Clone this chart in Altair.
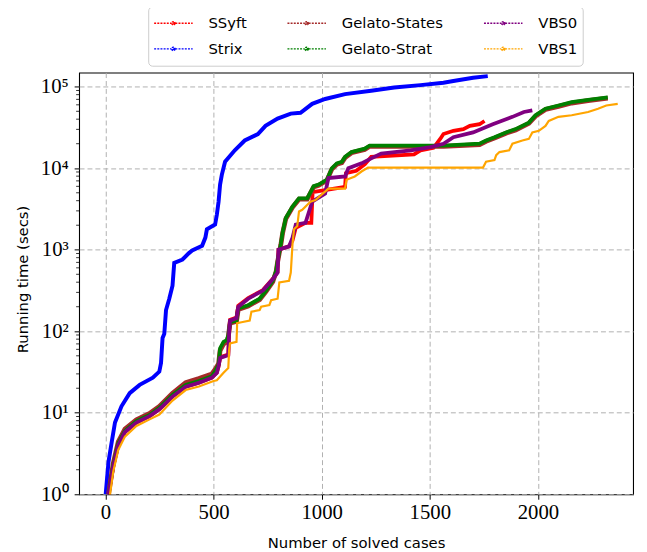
import altair as alt
import pandas as pd

# ---------------- data ----------------
series_names = ["SSyft", "Strix", "Gelato-States", "Gelato-Strat", "VBS0", "VBS1"]
series_colors = ["#ff0000", "#0000ff", "#a52a2a", "#008000", "#800080", "#ffa500"]

ssyft_x = [14, 36, 59, 90, 143, 204, 249, 310, 371, 432, 492, 515, 523, 530, 568, 572, 576, 606,
           614, 660, 728, 774, 796, 800, 849, 865, 880, 925, 952, 958, 1108, 1112, 1160, 1200, 1229,
           1427, 1457, 1517, 1548, 1563, 1609, 1655, 1685, 1730, 1753]
ssyft_y = [1.0, 2.2, 4.0, 5.8, 7.6, 9.1, 11, 15.8, 20.9, 23.4, 26.9, 30.9, 37, 48, 52, 100, 138, 148,
           205, 255, 320, 440, 530, 1000, 1100, 1300, 1860, 2140, 2140, 5100, 5900, 8700, 9300, 11200, 13800,
           14800, 16600, 17800, 22900, 26300, 28800, 30200, 33100, 34700, 38000]

strix_x = [1, 14, 29, 44, 74, 112, 158, 219, 249, 257, 264, 272, 280, 295, 310, 318, 356, 386, 401,
           447, 462, 469, 507, 515, 523, 530, 538, 553, 598, 644, 705, 740, 796, 857, 902, 956, 1016,
           1108, 1229, 1335, 1457, 1563, 1609, 1700, 1768]
strix_y = [1.0, 2.5, 4.4, 7.6, 12, 17.4, 22, 27, 32, 41, 83, 93, 182, 251, 363, 690, 760, 910, 980,
           1120, 1410, 1780, 2040, 2690, 3890, 6300, 8300, 12000, 16600, 21900, 26300, 33100, 40700,
           46800, 47900, 61700, 70800, 81300, 89100, 97700, 104700, 112200, 117500, 128800, 134900]

gstates_x = [14, 36, 59, 90, 143, 204, 249, 310, 371, 432, 492, 507, 523, 530, 546, 561, 568, 576,
             606, 614, 660, 713, 743, 774, 789, 796, 811, 819, 834, 865, 895, 933, 963, 986, 1024,
             1047, 1070, 1093, 1108, 1138, 1199, 1222, 1563, 1730, 1760, 1799, 1852, 1897, 1958,
             1989, 2035, 2095, 2156, 2232, 2323]
gstates_y = [1.0, 2.4, 4.4, 6.3, 8.2, 9.8, 12, 17.4, 23.4, 26.3, 30, 34, 40, 58, 70, 74, 85, 126,
             132, 185, 204, 245, 309, 407, 537, 708, 1150, 1590, 2400, 3310, 4170, 4170, 5890, 6170,
             7080, 9770, 11200, 11700, 13500, 15500, 17000, 18600, 18600, 19500, 21400, 23400, 26900,
             29500, 35500, 43700, 52500, 57500, 63100, 67600, 72400]

gstrat_x = [14, 36, 59, 90, 143, 204, 249, 310, 371, 432, 492, 507, 523, 530, 546, 561, 568, 576,
            606, 614, 660, 713, 743, 774, 789, 796, 811, 819, 834, 865, 895, 933, 963, 986, 1024,
            1047, 1070, 1093, 1108, 1138, 1199, 1222, 1563, 1730, 1760, 1799, 1852, 1897, 1958,
            1989, 2035, 2095, 2156, 2232, 2323]
gstrat_y = [1.0, 2.3, 4.2, 6.0, 7.9, 9.4, 11.5, 16.5, 21.9, 24.5, 28, 32.4, 39, 62, 74, 78, 89, 129,
            135, 190, 209, 251, 316, 417, 550, 724, 1175, 1620, 2450, 3390, 4270, 4270, 6030, 6310,
            7240, 10000, 11500, 12000, 13800, 15800, 17400, 19000, 19000, 20000, 21900, 24000, 27500,
            30200, 36300, 44700, 53700, 58900, 64600, 69200, 74100]

vbs0_x = [14, 36, 59, 90, 143, 204, 249, 310, 371, 432, 492, 515, 523, 530, 568, 572, 576, 606, 614,
          660, 728, 774, 796, 800, 849, 865, 880, 925, 956, 1016, 1031, 1108, 1123, 1184, 1229, 1275,
          1412, 1503, 1563, 1609, 1700, 1791, 1882, 1935, 1974]
vbs0_y = [1.0, 2.2, 4.0, 5.8, 7.6, 9.1, 11, 15.8, 20.9, 23.4, 26.9, 30.9, 37, 47, 51, 100, 135, 145, 200,
          251, 316, 437, 525, 1000, 1100, 1410, 2040, 2140, 3890, 4900, 7590, 7940, 10000, 11500, 13200,
          15100, 16600, 18200, 20000, 24000, 27500, 34700, 42700, 49000, 51300]

vbs1_x = [21, 36, 59, 90, 143, 204, 249, 310, 371, 432, 500, 515, 546, 568, 572, 576, 606, 609, 629,
          667, 675, 713, 720, 758, 766, 796, 804, 849, 857, 865, 872, 887, 895, 910, 948, 971, 1031,
          1108, 1115, 1153, 1184, 1214, 1746, 1760, 1799, 1807, 1822, 1867, 1882, 1928, 1958, 1974,
          2004, 2035, 2050, 2095, 2156, 2232, 2278, 2316, 2369]
vbs1_y = [1.0, 1.9, 3.5, 5.1, 6.9, 8.3, 9.5, 14.1, 19, 21, 24.5, 25, 31, 35.5, 60, 71, 74, 126, 129,
          135, 174, 182, 200, 209, 240, 251, 398, 417, 525, 1175, 1780, 1950, 2950, 3090, 3890, 4070,
          5620, 5620, 7240, 7940, 9120, 10200, 10200, 12000, 12600, 14500, 15800, 16600, 20000, 21900,
          22900, 27500, 28800, 33100, 38000, 42700, 44700, 49000, 53700, 58900, 61700]

x_ticks = [0, 500, 1000, 1500, 2000]
y_ticks = [1, 10, 100, 1000, 10000, 100000]
y_minor = [m * 10 ** k for k in range(5) for m in range(2, 10)]

series_x = {"SSyft": ssyft_x, "Strix": strix_x, "Gelato-States": gstates_x,
            "Gelato-Strat": gstrat_x, "VBS0": vbs0_x, "VBS1": vbs1_x}
series_y = {"SSyft": ssyft_y, "Strix": strix_y, "Gelato-States": gstates_y,
            "Gelato-Strat": gstrat_y, "VBS0": vbs0_y, "VBS1": vbs1_y}
stroke_w = {"SSyft": 3.8, "Strix": 4.0, "Gelato-States": 4.8, "Gelato-Strat": 3.8,
            "VBS0": 3.8, "VBS1": 2.2}

rows = []
for name in series_names:
    for i, (xv, yv) in enumerate(zip(series_x[name], series_y[name])):
        rows.append({"series": name, "x": xv, "y": yv, "idx": i})
df = pd.DataFrame(rows)
minor_df = pd.DataFrame({"v": y_minor})

# ---------------- chart ----------------
xscale = alt.Scale(domain=[-122, 2440], nice=False, zero=False)
yscale = alt.Scale(type="log", domain=[1, 149000], nice=False)

xaxis = alt.Axis(values=x_ticks, format="d", title="Number of solved cases", grid=True,
                 gridDash=[5, 3], gridColor="#b0b0b0", gridWidth=1, domain=False,
                 tickColor="black", tickSize=5, tickWidth=1, labelFont="Liberation Serif",
                 labelFontSize=21, labelColor="black", labelPadding=3, labelFlush=False,
                 titleFont="DejaVu Sans", titleFontSize=15, titleFontWeight="normal",
                 titleColor="black", titleBaseline="alphabetic", titleY=54)
yaxis = alt.Axis(values=y_ticks, title="Running time (secs)", grid=True,
                 gridDash=[5, 3], gridColor="#b0b0b0", gridWidth=1, domain=False,
                 tickColor="black", tickSize=5, tickWidth=1, labelFont="Liberation Serif",
                 labelFontSize=21, labelColor="black", labelPadding=6, labelFlush=False,
                 labelExpr="'10' + ['⁰','¹','²','³','⁴','⁵'][round(log(datum.value)/LN10)]",
                 titleFont="DejaVu Sans", titleFontSize=15, titleFontWeight="normal",
                 titleColor="black", titleX=-49, titleY=209)

# dotted line with a small marker ring in the middle, like the matplotlib handles
legend_symbol = ("M-1,0H-0.1M0.1,0H1"
                 "M0.09,0A0.09,0.09,0,1,1,-0.09,0A0.09,0.09,0,1,1,0.09,0"
                 "M0.04,0A0.04,0.04,0,1,1,-0.04,0A0.04,0.04,0,1,1,0.04,0")

legend = alt.Legend(title=None, orient="none", legendX=70, legendY=-67, columns=3,
                    symbolType=legend_symbol, symbolSize=1521, symbolStrokeWidth=1.3,
                    symbolDash=[2, 1.2], clipHeight=24, rowPadding=2, columnPadding=40,
                    labelFont="DejaVu Sans", labelFontSize=15, labelColor="black",
                    labelOffset=15, padding=5, strokeColor="#cccccc", fillColor="white",
                    cornerRadius=4)

color = alt.Color("series:N", scale=alt.Scale(domain=series_names, range=series_colors),
                  legend=legend)

layers = []
for name in series_names:
    layers.append(
        alt.Chart(df).transform_filter(alt.datum.series == name)
        .mark_line(strokeWidth=stroke_w[name])
        .encode(x=alt.X("x:Q", scale=xscale, axis=xaxis),
                y=alt.Y("y:Q", scale=yscale, axis=yaxis),
                color=color,
                order="idx:Q")
    )

minor = alt.Chart(minor_df).mark_rule(color="black", strokeWidth=0.8).encode(
    y=alt.Y("v:Q", scale=yscale, axis=yaxis),
    x=alt.value(-3), x2=alt.value(0))

chart = alt.layer(*layers, minor).properties(
    width=561, height=427,
    autosize=alt.AutoSizeParams(type="none"),
    padding={"left": 72, "top": 62, "right": 6, "bottom": 55},
).configure_view(stroke="black", strokeWidth=1.1)

chart.save("out.html", embed_options={"renderer": "svg", "actions": False})
